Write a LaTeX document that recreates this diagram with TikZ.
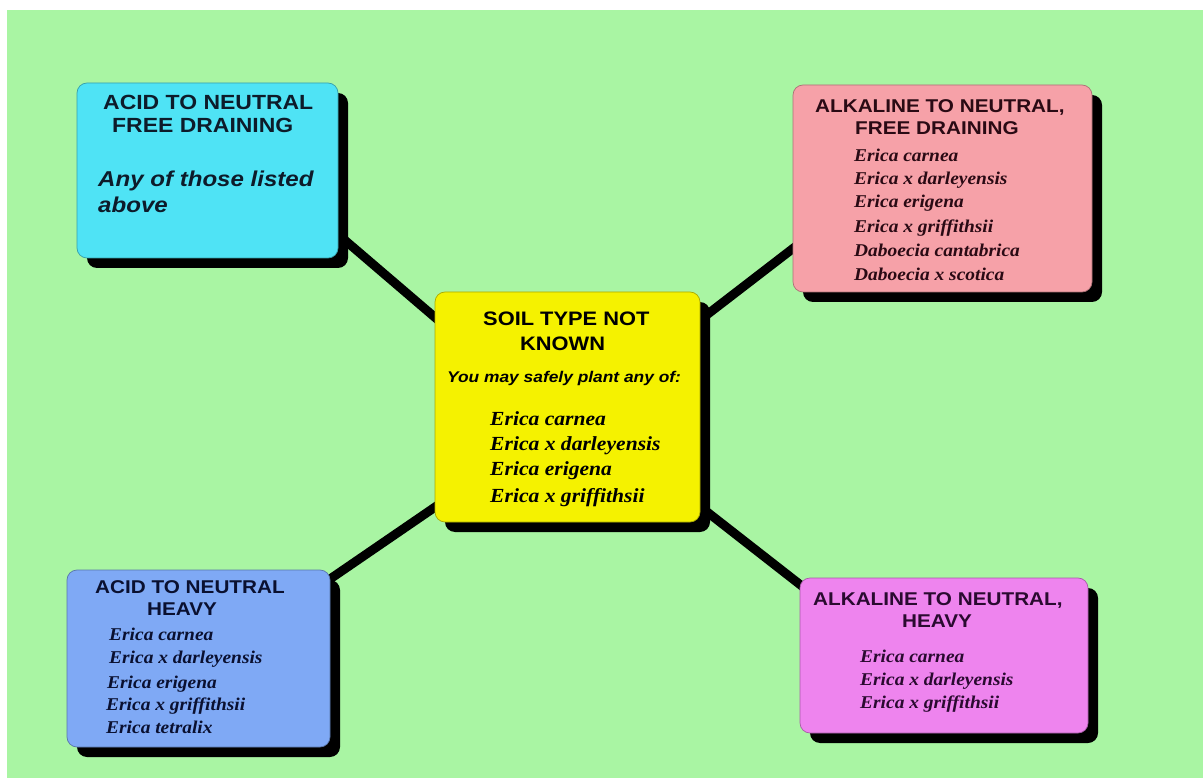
\documentclass[tikz,border=0pt]{standalone}
\usepackage{fontspec}
\newfontfamily\hsans[FakeStretch=1.12]{Liberation Sans}
\newfontfamily\hserif[FakeStretch=1.08]{Liberation Serif}
\usetikzlibrary{shadows,backgrounds,calc}
\definecolor{bggreen}{HTML}{A9F5A3}
\definecolor{cyanc}{HTML}{4FE3F5}
\definecolor{pinkc}{HTML}{F6A1A8}
\definecolor{yelc}{HTML}{F5F200}
\definecolor{bluec}{HTML}{7FA9F5}
\definecolor{violc}{HTML}{EE84EE}
\definecolor{tcyan}{HTML}{0D1B2A}
\definecolor{tpink}{HTML}{2A0A14}
\definecolor{tblue}{HTML}{0A1030}
\definecolor{tviol}{HTML}{2A0A30}
\tikzset{
  box/.style={rounded corners=10pt, draw=#1!70!black, line width=0.7pt, fill=#1, inner sep=0pt,
    drop shadow={shadow xshift=10pt, shadow yshift=-10pt, opacity=1, fill=black}},
  link/.style={line width=9pt, black},
  hdr/.style={anchor=base west, inner sep=0pt, font=\hsans\bfseries\fontsize{#1}{#1}\selectfont},
  sub/.style={anchor=base west, inner sep=0pt, font=\hsans\bfseries\itshape\fontsize{#1}{#1}\selectfont},
  sp/.style={anchor=base west, inner sep=0pt, font=\hserif\bfseries\itshape\fontsize{#1}{#1}\selectfont},
}
\begin{document}
\begin{tikzpicture}[x=1pt,y=-1pt]
\useasboundingbox (0,0) rectangle (1203,778);
% boxes
\node[box=cyanc, minimum width=261pt, minimum height=175pt] (cyan) at (207.5,170.5) {};
\node[box=pinkc, minimum width=299pt, minimum height=207pt] (pink) at (942.5,188.5) {};
\node[box=yelc, minimum width=265pt, minimum height=230pt] (yel) at (567.5,407) {};
\node[box=bluec, minimum width=263pt, minimum height=177pt] (blue) at (198.5,658.5) {};
\node[box=violc, minimum width=288pt, minimum height=155pt] (viol) at (944,655.5) {};
% background and connectors
\begin{scope}[on background layer]
  \fill[white] (0,0) rectangle (1203,778);
  \fill[bggreen] (7,10) rectangle (1203,778);
  \draw[link] ($(cyan.south east)+(2,-22)$) -- ($(yel.north west)+(10,34)$);
  \draw[link] ($(pink.south west)+(7,-49)$) -- ($(yel.north east)+(-5,32)$);
  \draw[link] ($(blue.north east)+(-10,16)$) -- ($(yel.south west)+(8,-20.5)$);
  \draw[link] ($(yel.south east)+(-3,-18)$) -- ($(viol.north west)+(12,16)$);
\end{scope}
% cyan text
\begin{scope}[text=tcyan]
\node[hdr=20.5] (c1) at (103,110) {ACID TO NEUTRAL};
\node[hdr=20.5] (c2) at (112,133) {FREE DRAINING};
\node[sub=21.5] (c3) at (98,187) {Any of those listed};
\node[sub=21.5] (c4) at (98,213) {above};
\end{scope}
% pink text
\begin{scope}[text=tpink]
\node[hdr=18.5] (p1) at (815,113) {ALKALINE TO NEUTRAL,};
\node[hdr=18.5] (p2) at (855,135) {FREE DRAINING};
\node[sp=18] (p3) at (854,162) {Erica carnea};
\node[sp=18] (p4) at (854,185) {Erica x darleyensis};
\node[sp=18] (p5) at (854,208) {Erica erigena};
\node[sp=18] (p6) at (854,233) {Erica x griffithsii};
\node[sp=18] (p7) at (854,257) {Daboecia cantabrica};
\node[sp=18] (p8) at (854,280) {Daboecia x scotica};
\end{scope}
% yellow text
\begin{scope}[text=black]
\node[hdr=19.5] (y1) at (483,325) {SOIL TYPE NOT};
\node[hdr=19.5] (y2) at (520,350) {KNOWN};
\node[sub=15.5] (y3) at (447,382) {You may safely plant any of:};
\node[sp=20] (y4) at (490,425) {Erica carnea};
\node[sp=20] (y5) at (490,450) {Erica x darleyensis};
\node[sp=20] (y6) at (490,475) {Erica erigena};
\node[sp=20] (y7) at (490,502) {Erica x griffithsii};
\end{scope}
% blue text
\begin{scope}[text=tblue]
\node[hdr=18.5] (b1) at (95,593) {ACID TO NEUTRAL};
\node[hdr=18.5] (b2) at (147,615) {HEAVY};
\node[sp=18] (b3) at (109,640) {Erica carnea};
\node[sp=18] (b4) at (109,663) {Erica x darleyensis};
\node[sp=18] (b5) at (107,688) {Erica erigena};
\node[sp=18] (b6) at (106,710) {Erica x griffithsii};
\node[sp=18] (b7) at (106,733) {Erica tetralix};
\end{scope}
% violet text
\begin{scope}[text=tviol]
\node[hdr=18.5] (v1) at (813,605) {ALKALINE TO NEUTRAL,};
\node[hdr=18.5] (v2) at (902,627) {HEAVY};
\node[sp=18] (v3) at (860,662) {Erica carnea};
\node[sp=18] (v4) at (860,685) {Erica x darleyensis};
\node[sp=18] (v5) at (860,708) {Erica x griffithsii};
\end{scope}
\end{tikzpicture}
\end{document}
